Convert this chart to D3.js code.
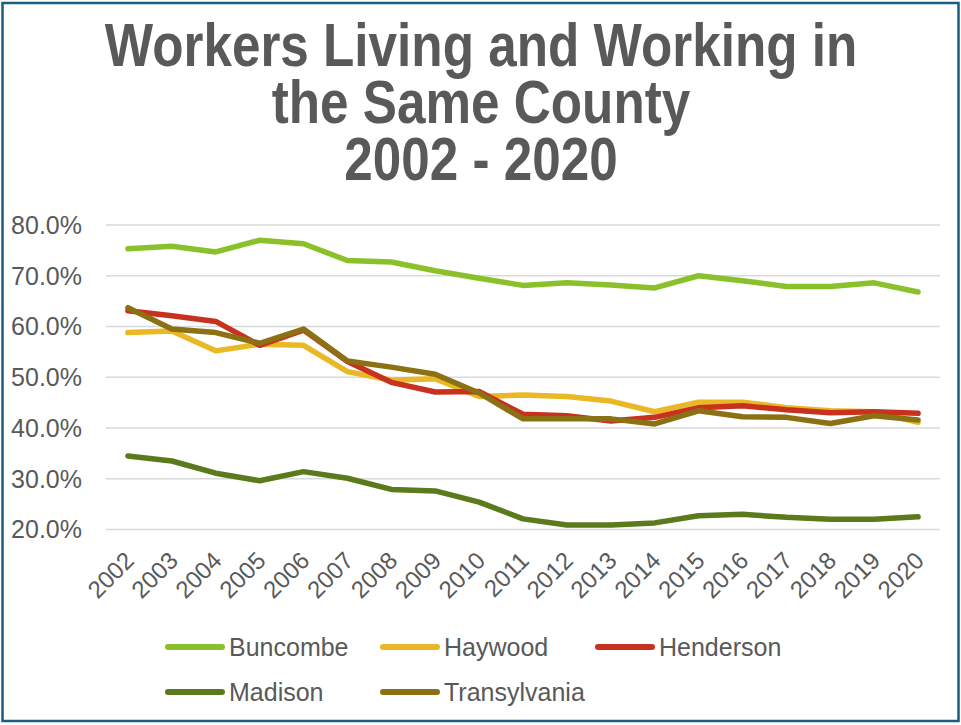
<!DOCTYPE html>
<html>
<head>
<meta charset="utf-8">
<script src="https://cdn.jsdelivr.net/npm/d3@7"></script>
<style>
  html, body { margin: 0; padding: 0; background: #ffffff; }
  svg { display: block; }
  text { font-family: "Liberation Sans", Arial, Helvetica, sans-serif; fill: #595959; }
</style>
</head>
<body>
<svg id="chart" width="961" height="725"></svg>
<script>
// Share of workers living and working in the same county, 2002–2020
const years = ["2002","2003","2004","2005","2006","2007","2008","2009","2010",
               "2011","2012","2013","2014","2015","2016","2017","2018","2019","2020"];

const buncombe     = [0.752,0.757,0.746,0.769,0.762,0.729,0.726,0.709,0.694,0.680,0.685,0.681,0.675,0.699,0.689,0.678,0.678,0.685,0.667];
const haywood      = [0.587,0.590,0.551,0.564,0.562,0.510,0.493,0.496,0.461,0.464,0.461,0.452,0.431,0.450,0.450,0.439,0.433,0.431,0.410];
const henderson    = [0.630,0.620,0.609,0.562,0.592,0.530,0.489,0.470,0.471,0.426,0.423,0.413,0.420,0.439,0.443,0.435,0.429,0.431,0.428];
const madison      = [0.344,0.334,0.310,0.295,0.313,0.300,0.278,0.275,0.253,0.220,0.208,0.208,0.212,0.226,0.229,0.223,0.219,0.219,0.224];
const transylvania = [0.636,0.594,0.587,0.566,0.594,0.531,0.519,0.505,0.468,0.417,0.417,0.417,0.407,0.433,0.421,0.420,0.408,0.423,0.415];

const seriesNames  = ["Buncombe","Haywood","Henderson","Madison","Transylvania"];
const seriesValues = [buncombe, haywood, henderson, madison, transylvania];
const seriesColors = ["#8ac12b","#e9b824","#c8311d","#5a7a1b","#8c7014"];

const yTicks = [0.2,0.3,0.4,0.5,0.6,0.7,0.8];
const titleLines = ["Workers Living and Working in","the Same County","2002 - 2020"];

const svg = d3.select("#chart");

// outer frame
svg.append("rect")
  .attr("x", 2.5).attr("y", 3).attr("width", 956).attr("height", 718)
  .attr("fill", "#ffffff").attr("stroke", "#1d5b7f").attr("stroke-width", 2.5);

// title: one bold text block, horizontally condensed
const titleScaleX = 0.84;
const titleCenter = 481;
const titleBaselines = [66, 123, 180];
const title = svg.append("text")
  .attr("transform", `scale(${titleScaleX},1)`)
  .attr("text-anchor", "middle")
  .style("font-weight", "bold")
  .style("font-size", "61px");
title.selectAll("tspan")
  .data(titleLines)
  .join("tspan")
  .attr("x", titleCenter / titleScaleX)
  .attr("y", (d, i) => titleBaselines[i])
  .text(d => d);

// scales
const x = d3.scalePoint().domain(years).range([106, 940]).padding(0.5);
const y = d3.scaleLinear().domain([0.2, 0.8]).range([529, 224.5]);

// gridlines + y labels
const yAxis = d3.axisLeft(y)
  .tickValues(yTicks)
  .tickFormat(d3.format(".1%"))
  .tickSize(-(940 - 106))
  .tickPadding(24);

const gy = svg.append("g").attr("transform", "translate(106,0)").call(yAxis);
gy.select(".domain").remove();
gy.selectAll(".tick line").attr("stroke", "#d9d9d9").attr("stroke-width", 1.5);
gy.selectAll(".tick text")
  .attr("fill", "#595959")
  .style("font-size", "25px")
  .attr("dy", "0.35em");

// x labels (rotated)
const xAxis = d3.axisBottom(x).tickSize(0).tickPadding(0);
const gx = svg.append("g").attr("transform", "translate(0,529)").call(xAxis);
gx.select(".domain").remove();
gx.selectAll(".tick text")
  .attr("fill", "#595959")
  .style("font-size", "24px")
  .attr("text-anchor", "end")
  .attr("x", 0).attr("y", 0).attr("dy", 0)
  .attr("transform", "translate(7,33) rotate(-45)");

// series lines
const line = d3.line()
  .x((d, i) => x(years[i]))
  .y(d => y(d));

svg.append("g").selectAll("path")
  .data(seriesValues)
  .join("path")
  .attr("d", d => line(d))
  .attr("fill", "none")
  .attr("stroke", (d, i) => seriesColors[i])
  .attr("stroke-width", 5.5)
  .attr("stroke-linejoin", "round")
  .attr("stroke-linecap", "round");

// legend
const legendPos = [[165, 647], [380, 647], [595, 647], [165, 692], [380, 692]];
const legend = svg.append("g").selectAll("g")
  .data(seriesNames)
  .join("g")
  .attr("transform", (d, i) => `translate(${legendPos[i][0]},${legendPos[i][1]})`);

legend.append("line")
  .attr("x1", 3).attr("x2", 57).attr("y1", 0).attr("y2", 0)
  .attr("stroke", (d, i) => seriesColors[i])
  .attr("stroke-width", 6)
  .attr("stroke-linecap", "round");

legend.append("text")
  .attr("x", 64).attr("y", 0).attr("dy", "0.35em")
  .style("font-size", "25px")
  .text(d => d);
</script>
</body>
</html>
